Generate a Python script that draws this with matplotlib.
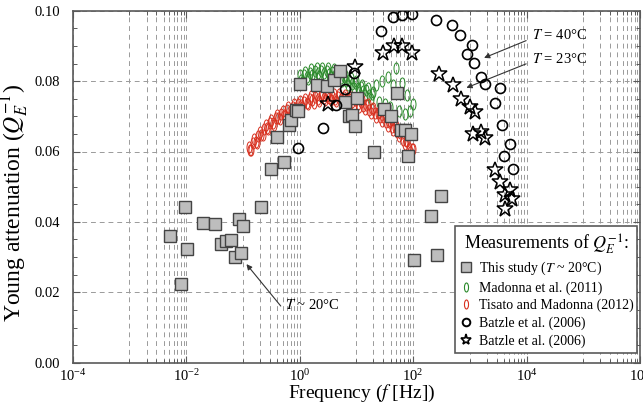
import matplotlib
matplotlib.use("Agg")
import matplotlib.pyplot as plt
from matplotlib.path import Path
from matplotlib.transforms import Affine2D
from matplotlib.lines import Line2D
from matplotlib.ticker import MultipleLocator, FixedLocator, LogFormatterMathtext, NullFormatter

plt.rcParams['font.family'] = ['Liberation Serif', 'DejaVu Serif']
plt.rcParams['mathtext.fontset'] = 'stix'

# This study (T ~ 20 C)
study_freq = [0.00524, 0.0097, 0.0102, 0.00826, 0.0201, 0.0318, 0.0411, 0.0503, 0.0616, 0.0733,
              0.0861, 0.101, 0.0933, 0.207, 0.31, 0.405, 0.53, 0.648, 0.713, 0.851,
              0.933, 1.0, 2.04, 3.1, 4.05, 5.24, 6.24, 7.54, 8.38, 9.33,
              10.4, 20.7, 30.5, 41.6, 52.4, 61.5, 72.4, 90.8, 82.8, 104,
              207, 259, 310]
study_q = [0.0359, 0.0441, 0.0323, 0.0224, 0.0398, 0.0395, 0.0337, 0.0346, 0.0348, 0.0301,
           0.0409, 0.0388, 0.0313, 0.0441, 0.0550, 0.0641, 0.0570, 0.0675, 0.0689, 0.0717,
           0.0714, 0.0791, 0.0788, 0.0786, 0.0802, 0.0830, 0.0742, 0.0700, 0.0703, 0.0672,
           0.0753, 0.0599, 0.0720, 0.0702, 0.0766, 0.0662, 0.0660, 0.0649, 0.0586, 0.0291,
           0.0416, 0.0307, 0.0474]

# Madonna et al. (2011)
madonna_freq = [1.000, 1.059, 1.122, 1.189, 1.259, 1.334, 1.413, 1.496, 1.585, 1.679,
                1.778, 1.884, 1.995, 2.113, 2.239, 2.371, 2.512, 2.661, 2.818, 2.985,
                3.162, 3.350, 3.548, 3.758, 3.981, 4.217, 4.467, 4.732, 5.012, 5.309,
                5.623, 5.957, 6.310, 6.683, 7.079, 7.499, 7.943, 8.414, 8.913, 9.441,
                10.00, 10.59, 11.22, 11.89, 12.59, 13.34, 14.13, 14.96, 15.85, 16.79,
                17.78, 18.84, 19.95,
                22.4, 25.1, 28.2, 31.6, 35.5, 39.8, 44.7, 50.1, 56.2, 63.1,
                70.8, 79.4, 89.1, 100]
madonna_q = [0.0817, 0.0804, 0.0798, 0.0817, 0.0827, 0.0813, 0.0806, 0.0824, 0.0833, 0.0818,
             0.0811, 0.0828, 0.0837, 0.0822, 0.0814, 0.0830, 0.0838, 0.0822, 0.0814, 0.0830,
             0.0837, 0.0820, 0.0811, 0.0826, 0.0833, 0.0816, 0.0806, 0.0821, 0.0827, 0.0809,
             0.0799, 0.0813, 0.0818, 0.0800, 0.0790, 0.0804, 0.0809, 0.0791, 0.0780, 0.0794,
             0.0799, 0.0781, 0.0770, 0.0784, 0.0789, 0.0771, 0.0760, 0.0774, 0.0779, 0.0761,
             0.0750, 0.0764, 0.0769,
             0.0790, 0.0742, 0.0800, 0.0735, 0.0812, 0.0726, 0.0790, 0.0836, 0.0716, 0.0795,
             0.0706, 0.0760, 0.0714, 0.0735]

# Tisato and Madonna (2012)
tisato_freq = [0.1259, 0.1334, 0.1413, 0.1496, 0.1585, 0.1679, 0.1778, 0.1884, 0.1995, 0.2113,
               0.2239, 0.2371, 0.2512, 0.2661, 0.2818, 0.2985, 0.3162, 0.3350, 0.3548, 0.3758,
               0.3981, 0.4217, 0.4467, 0.4732, 0.5012, 0.5309, 0.5623, 0.5957, 0.6310, 0.6683,
               0.7079, 0.7499, 0.7943, 0.8414, 0.8913, 0.9441,
               1.000, 1.059, 1.122, 1.189, 1.259, 1.334, 1.413, 1.496, 1.585, 1.679,
               1.778, 1.884, 1.995, 2.113, 2.239, 2.371, 2.512, 2.661, 2.818, 2.985,
               3.162, 3.350, 3.548, 3.758, 3.981, 4.217, 4.467, 4.732, 5.012, 5.309,
               5.623, 5.957, 6.310, 6.683, 7.079, 7.499, 7.943, 8.414, 8.913, 9.441,
               10.00, 10.59, 11.22, 11.89, 12.59, 13.34, 14.13, 14.96, 15.85, 16.79,
               17.78, 18.84, 19.95, 21.13, 22.39, 23.71, 25.12, 26.61, 28.18, 29.85,
               31.62, 33.50, 35.48, 37.58, 39.81, 42.17, 44.67, 47.32, 50.12, 53.09,
               56.23, 59.57, 63.10, 66.83, 70.79, 74.99, 79.43, 84.14, 89.13, 94.41,
               100.0]
tisato_q = [0.0613, 0.0605, 0.0604, 0.0624, 0.0635, 0.0627, 0.0624, 0.0644, 0.0655, 0.0648,
            0.0647, 0.0665, 0.0675, 0.0666, 0.0663, 0.0680, 0.0690, 0.0680, 0.0676, 0.0694,
            0.0704, 0.0694, 0.0691, 0.0707, 0.0716, 0.0705, 0.0701, 0.0717, 0.0726, 0.0715,
            0.0710, 0.0726, 0.0735, 0.0724, 0.0719, 0.0735,
            0.0743, 0.0732, 0.0727, 0.0742, 0.0750, 0.0739, 0.0734, 0.0749, 0.0757, 0.0745,
            0.0739, 0.0754, 0.0761, 0.0749, 0.0743, 0.0757, 0.0764, 0.0751, 0.0745, 0.0759,
            0.0765, 0.0752, 0.0745, 0.0758, 0.0764, 0.0750, 0.0743, 0.0756, 0.0762, 0.0748,
            0.0741, 0.0754, 0.0760, 0.0746, 0.0738, 0.0750, 0.0755, 0.0740, 0.0732, 0.0745,
            0.0750, 0.0735, 0.0727, 0.0740, 0.0745, 0.0729, 0.0720, 0.0731, 0.0735, 0.0719,
            0.0709, 0.0720, 0.0724, 0.0708, 0.0699, 0.0710, 0.0713, 0.0697, 0.0687, 0.0697,
            0.0700, 0.0683, 0.0672, 0.0683, 0.0686, 0.0670, 0.0660, 0.0670, 0.0673, 0.0655,
            0.0643, 0.0652, 0.0653, 0.0634, 0.0621, 0.0629, 0.0630, 0.0611, 0.0598, 0.0606,
            0.0607]

# Batzle et al. (2006), T = 40 C
batzle40_freq = [0.934, 2.6, 4.46, 6.24, 9.23, 27.5, 44.6, 64.9, 96, 256,
                 489, 668, 897, 1097, 1190, 1600, 1834, 2810, 3360, 3730,
                 4000, 5030, 5750]
batzle40_q = [0.0609, 0.0667, 0.0731, 0.0778, 0.0823, 0.0942, 0.0981, 0.0988, 0.0991, 0.0974,
              0.0958, 0.0930, 0.0878, 0.0903, 0.0851, 0.0813, 0.0793, 0.0738, 0.0781, 0.0676,
              0.0587, 0.0620, 0.0549]

# Batzle et al. (2006), T = 23 C
batzle23_freq = [3.13, 9.6, 29.5, 47, 64.9, 97.3, 286, 509, 695, 1000,
                 1225, 1143, 1600, 1879, 2810, 3360, 5030, 4110, 5520, 4160]
batzle23_q = [0.0736, 0.0840, 0.0881, 0.0901, 0.0901, 0.0881, 0.0821, 0.0788, 0.0750, 0.0726,
              0.0712, 0.0651, 0.0655, 0.0637, 0.0547, 0.0513, 0.0490, 0.0476, 0.0466, 0.0438]

legend_labels = ["This study ($T$ ~ 20°C)", "Madonna et al. (2011)",
                 "Tisato and Madonna (2012)", "Batzle et al. (2006)", "Batzle et al. (2006)"]

GREEN = "#2b8a2b"
RED = "#d8301f"
GRID = "#9a9a9a"
FRAME = "#5a5a5a"

# thin upright ellipse marker
ellipse = Affine2D().scale(0.45, 1.0).transform_path(Path.unit_circle())

fig = plt.figure(figsize=(6.43, 4.08), dpi=100)
ax = fig.add_axes([72.7 / 643, (408 - 362.7) / 408, 567.3 / 643, 352 / 408])

ax.plot(madonna_freq, madonna_q, ls="none", marker=ellipse, markersize=8,
        mfc="none", mec=GREEN, mew=0.7, zorder=3)
ax.plot(tisato_freq, tisato_q, ls="none", marker=ellipse, markersize=8,
        mfc="none", mec=RED, mew=0.7, zorder=3)
ax.plot(study_freq, study_q, ls="none", marker="s", markersize=8,
        mfc="#bdbdbd", mec="#444444", mew=1.0, zorder=4)
ax.plot(batzle40_freq, batzle40_q, ls="none", marker="o", markersize=7.2,
        mfc="none", mec="black", mew=1.2, zorder=5)
ax.plot(batzle23_freq, batzle23_q, ls="none", marker="*", markersize=12,
        mfc="none", mec="black", mew=1.1, zorder=5)

ax.set_xscale("log")
ax.set_xlim(1e-4, 1e6)
ax.set_ylim(0, 0.10)

ax.xaxis.set_major_locator(FixedLocator([1e-4, 1e-2, 1e0, 1e2, 1e4, 1e6]))
ax.xaxis.set_major_formatter(LogFormatterMathtext())
ax.xaxis.set_minor_locator(FixedLocator([m * 10.0 ** k for k in (-3, -1, 1, 3, 5) for m in range(1, 10)]))
ax.xaxis.set_minor_formatter(NullFormatter())
ax.yaxis.set_major_locator(MultipleLocator(0.02))
ax.yaxis.set_minor_locator(MultipleLocator(0.005))
ax.yaxis.set_major_formatter(plt.FormatStrFormatter("%.2f"))

ax.tick_params(which="both", direction="in", top=True, right=True, color=FRAME, labelsize=10.5)
ax.tick_params(which="major", length=5, width=0.8)
ax.tick_params(which="minor", length=3, width=0.7)
ax.tick_params(axis="y", which="major", pad=9)
ax.tick_params(axis="x", which="major", pad=4)

ax.grid(True, which="both", axis="x", ls=(0, (5, 4)), lw=0.7, color=GRID, zorder=0)
ax.grid(True, which="major", axis="y", ls=(0, (5, 4)), lw=0.7, color=GRID, zorder=0)
ax.set_axisbelow(True)
for sp in ax.spines.values():
    sp.set_color(FRAME)
    sp.set_linewidth(1.2)

ax.set_ylabel("Young attenuation ($Q_E^{-1}$)", fontsize=17)
ax.yaxis.set_label_coords(-0.074, 0.455)
ax.set_xlabel("Frequency ($f$ [Hz])", fontsize=14)
ax.xaxis.set_label_coords(0.51, -0.058)

# annotations
arrow = dict(arrowstyle="-|>", color="#333333", lw=0.8, mutation_scale=8, shrinkA=0, shrinkB=0)
ax.annotate("", xy=(0.1156, 0.0280), xytext=(0.465, 0.0161), arrowprops=arrow)
ax.text(0.56, 0.0164, "$T$ ~ 20°C", fontsize=10.5, va="center", ha="left")
ax.annotate("", xy=(1783, 0.0866), xytext=(9840, 0.0915), arrowprops=arrow)
ax.text(12400, 0.0930, "$T$ = 40°C", fontsize=10.5, va="center", ha="left")
ax.annotate("", xy=(871, 0.0781), xytext=(9840, 0.0849), arrowprops=arrow)
ax.text(12400, 0.0864, "$T$ = 23°C", fontsize=10.5, va="center", ha="left")

handles = [
    Line2D([], [], ls="none", marker="s", markersize=6.5, mfc="#bdbdbd", mec="#444444", mew=1.0),
    Line2D([], [], ls="none", marker=ellipse, markersize=6.5, mfc="none", mec=GREEN, mew=0.8),
    Line2D([], [], ls="none", marker=ellipse, markersize=6.5, mfc="none", mec=RED, mew=0.8),
    Line2D([], [], ls="none", marker="o", markersize=5.5, mfc="none", mec="black", mew=1.4),
    Line2D([], [], ls="none", marker="*", markersize=8, mfc="none", mec="black", mew=1.2),
]
leg = ax.legend(handles, legend_labels, loc="lower left", bbox_to_anchor=(0.674, 0.027, 0.321, 0.355),
                mode="expand", borderaxespad=0, fontsize=10, title="Measurements of $Q_E^{-1}$:",
                title_fontsize=13, handlelength=0.8, handletextpad=0.5, labelspacing=0.3,
                borderpad=0.4, fancybox=False, framealpha=1, edgecolor=FRAME)
leg.get_frame().set_linewidth(1.2)
leg.set_zorder(10)

fig.savefig("out.png", dpi=100)
